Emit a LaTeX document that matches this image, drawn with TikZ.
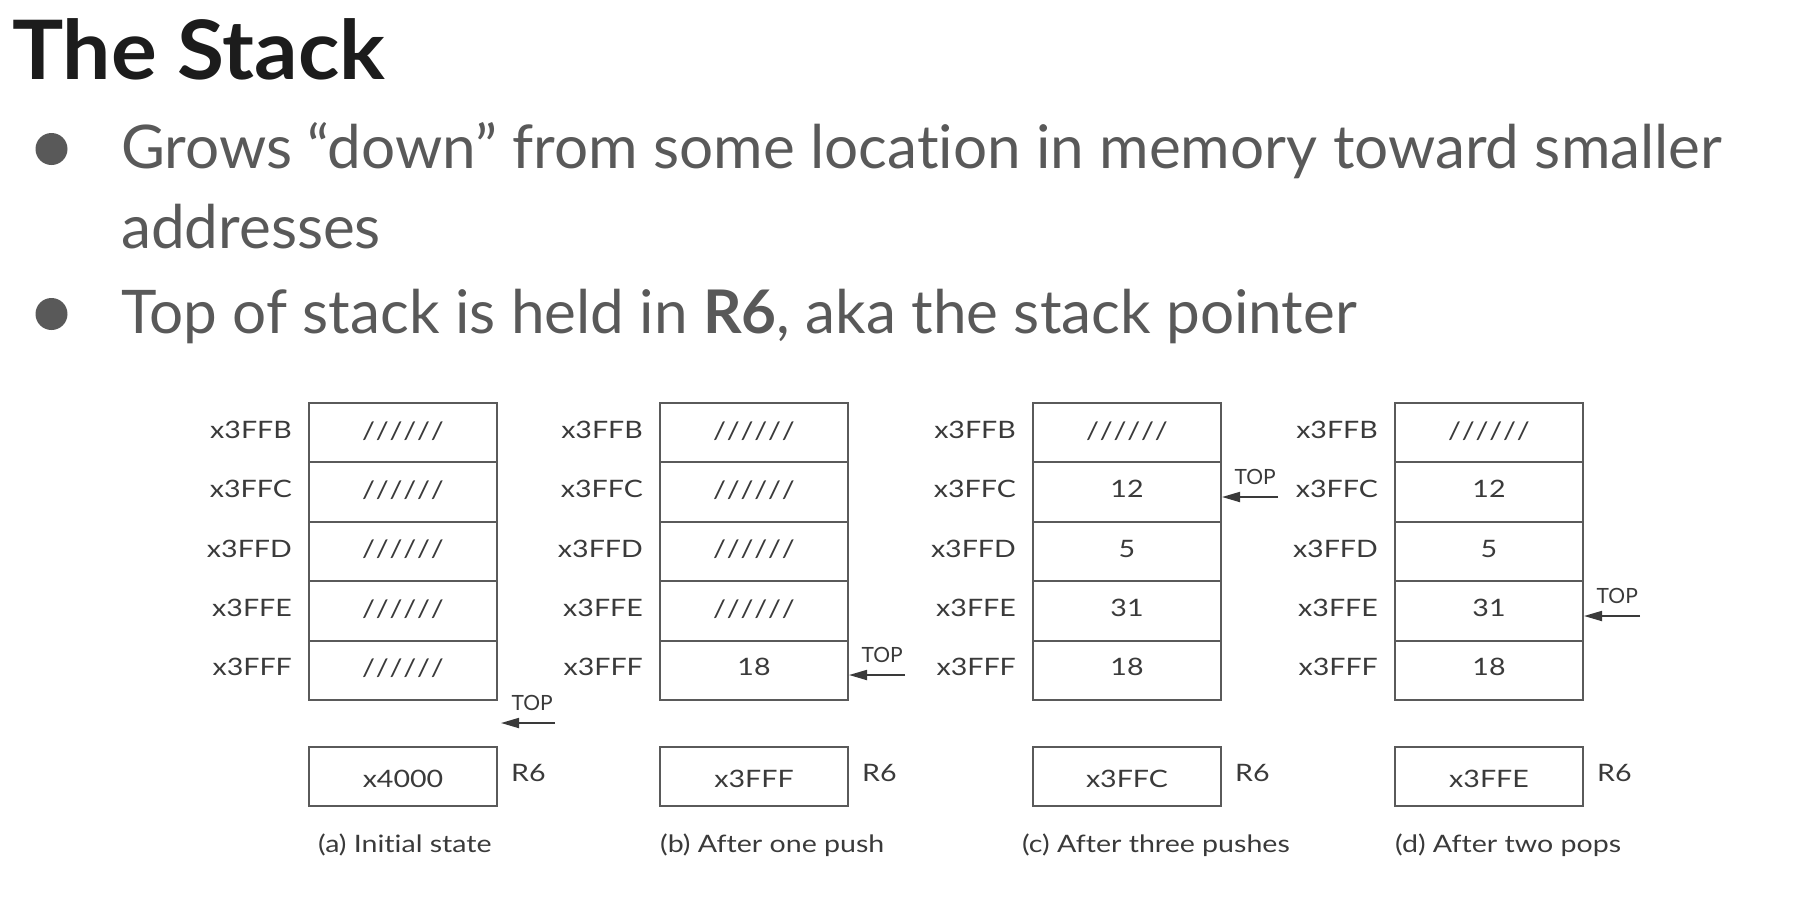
\documentclass[tikz,border=0pt]{standalone}
\usepackage{fontspec}
\setmainfont{Lato}[Ligatures={NoCommon}]
\newfontfamily\diagfont{Lato}[Ligatures={NoCommon},FakeStretch=1.19]
\newfontfamily\topfont{Lato}
\usetikzlibrary{arrows.meta}
\definecolor{titlecol}{HTML}{1C1C1C}
\definecolor{bodycol}{HTML}{595959}
\definecolor{linecol}{HTML}{5A5A5A}
\definecolor{dtext}{HTML}{3A3A3A}
\newcommand{\slashes}{{\addfontfeature{LetterSpace=30}//////}}
\begin{document}
\begin{tikzpicture}[x=1pt,y=-1pt,
  cell/.style={draw=linecol, line width=2pt, minimum width=188pt, minimum height=59.4pt, inner sep=0pt, font=\diagfont\fontsize{24}{28}\selectfont, text=dtext},
  addr/.style={inner sep=0pt, font=\diagfont\fontsize{24}{28}\selectfont, text=dtext},
  toplab/.style={inner sep=0pt, font=\topfont\fontsize{21}{24}\selectfont, text=dtext},
  toparrow/.style={draw=dtext, line width=1.8pt, -{Triangle[length=18pt,width=10pt]}},
  bodytext/.style={inner sep=0pt, anchor=base west, font=\fontsize{60.2}{72}\selectfont, text=bodycol},
  bulletdot/.style={circle, fill=bodycol, minimum size=32pt, inner sep=0pt}
]
\useasboundingbox (0,0) rectangle (1802,898);
\node[inner sep=0pt, anchor=base west, font=\fontsize{82}{96}\selectfont\bfseries\addfontfeature{FakeStretch=1.045}, text=titlecol] (title) at (12,79) {The Stack};
\node[bulletdot] (dot1) at (51.5,149) {};
\node[bodytext] (b1) at (121,168) {Grows “down” from some location in memory toward smaller};
\node[bodytext] (b1b) at (121,248) {addresses};
\node[bulletdot] (dot2) at (51.5,314) {};
\node[bodytext] (b2) at (121,333) {Top of stack is held in \textbf{R6}, aka the stack pointer};

\foreach \c/\x in {a/403,b/754,c/1127,d/1489}{
  \foreach \i/\ad in {1/x3FFB,2/x3FFC,3/x3FFD,4/x3FFE,5/x3FFF}{
    \node[cell] (\c\i) at (\x,{403+59.4*(\i-0.5)}) {};
    \node[addr, anchor=east] (\c L\i) at ([xshift=-16pt,yshift=3pt]\c\i.west) {\ad};
  }
}
% contents
\foreach \c in {a,b,c,d}{\node[addr] (\c v1) at ([yshift=2pt]\c1.center) {\slashes};}
\foreach \c in {a,b}{\foreach \i in {2,3,4}{\node[addr] (\c v\i) at ([yshift=2pt]\c\i.center) {\slashes};}}
\node[addr] (av5) at ([yshift=2pt]a5.center) {\slashes};
\foreach \c in {b,c,d}{\node[addr] (\c v5) at ([yshift=3pt]\c5.center) {18};}
\foreach \c in {c,d}{
  \node[addr] (\c v2) at ([yshift=3pt]\c2.center) {12};
  \node[addr] (\c v3) at ([yshift=3pt]\c3.center) {5};
  \node[addr] (\c v4) at ([yshift=3pt]\c4.center) {31};
}
% R6 registers
\foreach \c/\x/\v in {a/403/x4000,b/754/x3FFF,c/1127/x3FFC,d/1489/x3FFE}{
  \node[cell, minimum height=59pt] (\c R) at (\x,776.5) {};
  \node[addr] (\c Rv) at ([yshift=-2pt]\c R.center) {\v};
  \node[addr, anchor=west] (\c Rl) at ([xshift=13pt,yshift=4pt]\c R.east) {R6};
}
% captions
\node[addr, anchor=west] (capa) at (318,845) {(a) Initial state};
\node[addr, anchor=west] (capb) at (660,845) {(b) After one push};
\node[addr, anchor=west] (capc) at (1022,845) {(c) After three pushes};
\node[addr, anchor=west] (capd) at (1395,845) {(d) After two pops};
% TOP arrows
\coordinate (ta) at (555,723);
\coordinate (tb) at (905,675);
\coordinate (tc) at (1278,497);
\coordinate (td) at (1640,616);
\draw[toparrow] (ta) -- ([xshift=3pt]ta -| a5.east);
\draw[toparrow] (tb) -- (tb -| b5.east);
\draw[toparrow] (tc) -- (tc -| c2.east);
\draw[toparrow] (td) -- (td -| d4.east);
\foreach \t in {ta,tb,tc,td}{
  \node[toplab, anchor=south east] (\t l) at ([xshift=-2pt,yshift=12pt]\t) {TOP};
}
\end{tikzpicture}
\end{document}
